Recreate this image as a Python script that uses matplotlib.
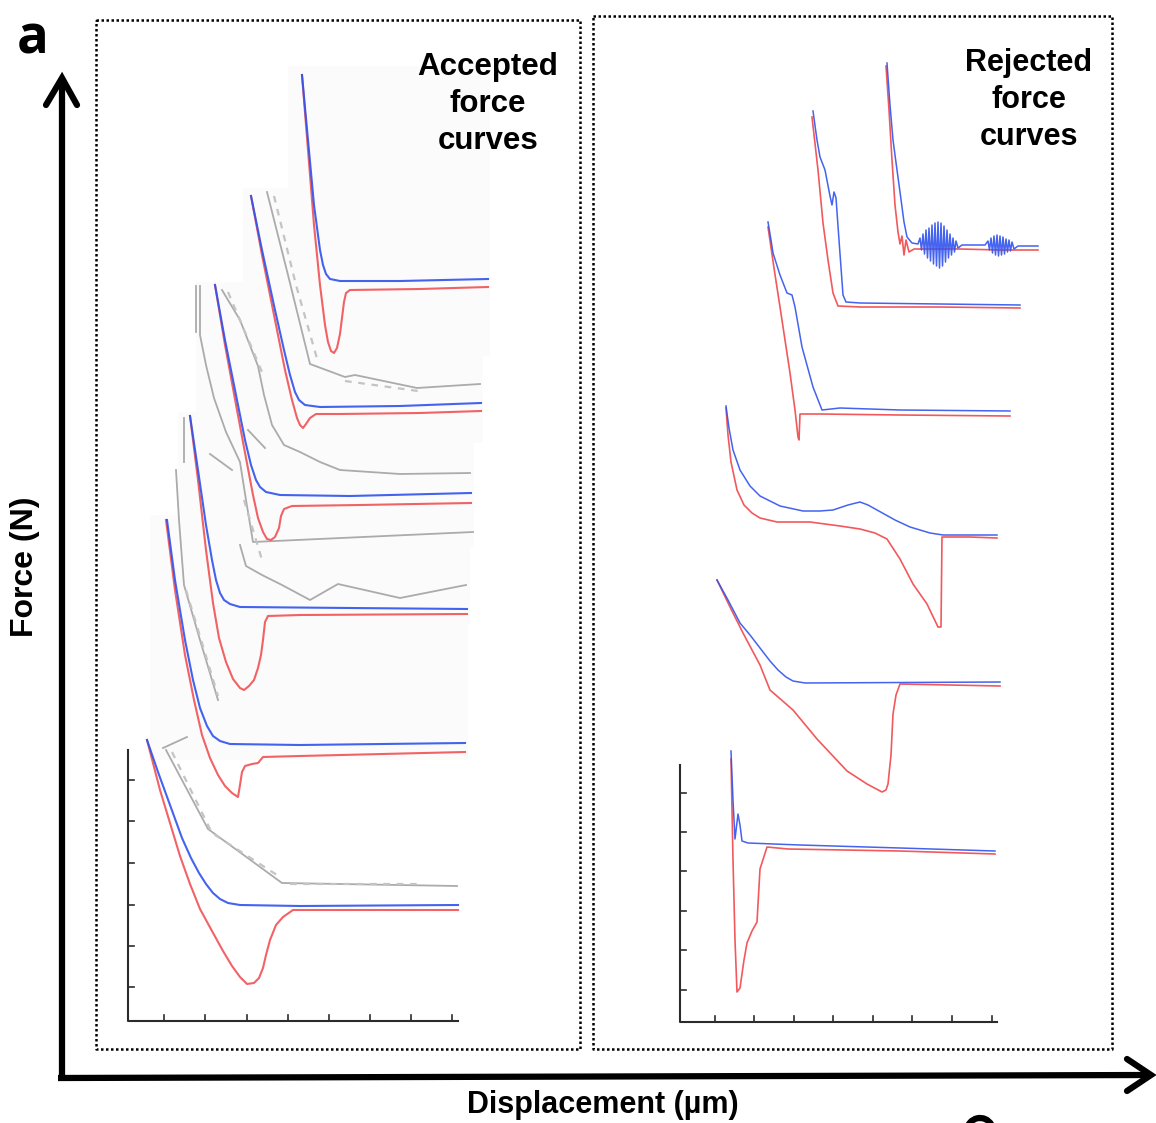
import matplotlib
matplotlib.use("Agg")
import matplotlib.pyplot as plt
from matplotlib.patches import Rectangle, Arc

# traces sampled from the figure (displacement px, force px), y grows downward
# ---- accepted force curves (left panel) ----
acc1_app = [(302, 75), (308, 140), (314, 205), (320, 250), (323, 265), (326, 274), (330, 279), (340, 281), (400, 281), (488, 279)]
acc1_ret = [(302, 75), (308, 150), (314, 225), (320, 285), (325, 325), (328, 342), (331, 351), (334, 353), (337, 348), (340, 334),
            (342, 318), (344, 302), (346, 293), (350, 290), (420, 289), (488, 287)]
acc2_app = [(251, 196), (262, 250), (275, 310), (284, 350), (290, 375), (295, 392), (299, 400), (305, 405), (320, 407), (400, 406), (481, 403)]
acc2_ret = [(251, 196), (262, 255), (275, 320), (285, 370), (292, 400), (297, 418), (300, 425), (303, 428), (306, 424), (310, 418),
            (316, 414), (340, 414), (420, 413), (481, 411)]
acc3_app = [(215, 285), (225, 340), (237, 400), (245, 440), (251, 465), (256, 480), (260, 487), (266, 492), (280, 495), (350, 496), (471, 493)]
acc3_ret = [(215, 285), (225, 345), (237, 410), (246, 458), (253, 495), (258, 518), (263, 532), (267, 539), (271, 540), (275, 537),
            (279, 528), (281, 516), (284, 509), (292, 506), (360, 505), (471, 503)]
acc4_app = [(190, 416), (198, 470), (206, 525), (212, 560), (216, 580), (220, 593), (224, 600), (230, 604), (240, 607), (350, 608), (467, 609)]
acc4_ret = [(190, 416), (198, 480), (206, 550), (213, 603), (219, 638), (226, 662), (233, 679), (240, 688), (244, 690), (249, 686),
            (254, 680), (258, 668), (261, 655), (263, 640), (265, 622), (268, 616), (300, 615), (467, 614)]
acc5_app = [(167, 520), (175, 580), (185, 640), (193, 680), (200, 708), (207, 726), (213, 736), (220, 741), (230, 744), (300, 745), (465, 743)]
acc5_ret = [(166, 520), (175, 590), (185, 655), (194, 700), (202, 735), (210, 758), (218, 775), (225, 786), (232, 793), (238, 797),
            (240, 785), (242, 772), (245, 766), (252, 764), (258, 763), (263, 757), (300, 756), (465, 752)]
acc6_app = [(147, 740), (158, 772), (170, 805), (182, 838), (191, 858), (199, 873), (206, 884), (213, 893), (220, 899), (228, 903),
            (240, 905), (300, 906), (458, 905)]
acc6_ret = [(147, 740), (160, 790), (170, 823), (180, 856), (190, 884), (200, 909), (212, 931), (223, 951), (232, 966), (240, 977),
            (247, 984), (254, 983), (259, 978), (263, 968), (266, 955), (270, 940), (276, 925), (283, 917), (293, 910), (360, 910), (458, 910)]

# grey outlines left over from the pasted source images
grey_traces = [
    [(267, 192), (288, 275), (310, 364), (345, 377), (355, 375), (417, 388), (480, 384)],
    [(196, 286), (196, 332)],
    [(200, 286), (200, 335), (206, 365), (214, 398), (226, 432), (240, 462), (246, 500), (253, 542), (473, 532)],
    [(222, 290), (240, 320), (258, 366), (264, 395), (272, 425), (284, 445), (300, 452), (320, 462), (340, 470), (400, 474), (470, 473)],
    [(248, 430), (265, 448)],
    [(210, 454), (232, 470)],
    [(184, 418), (184, 462)],
    [(176, 470), (179, 520), (184, 585), (200, 640), (218, 700)],
    [(240, 545), (246, 566), (262, 575), (282, 585), (310, 600), (338, 584), (400, 598), (466, 585)],
    [(163, 748), (187, 737)],
    [(166, 750), (208, 829), (282, 883), (457, 886)],
]
grey_dashes = [
    [(274, 196), (296, 285), (318, 362)],
    [(345, 381), (418, 391)],
    [(228, 292), (262, 372)],
    [(244, 500), (262, 560)],
    [(186, 590), (218, 696)],
    [(172, 752), (212, 833), (280, 877)],
    [(290, 884), (420, 884)],
]

# ---- rejected force curves (right panel) ----
rej1_app = [(887, 63), (890, 105), (893, 140), (897, 170), (900, 192), (904, 222), (907, 237), (912, 243), (918, 244),
            (920, 238), (921.5, 250), (923, 234), (924.5, 254), (926, 230), (927.5, 258), (929, 228), (930.5, 261), (932, 225),
            (933.5, 264), (935, 223), (936.5, 266), (938, 222), (939.5, 268), (941, 223), (942.5, 266), (944, 226), (945.5, 262),
            (947, 230), (948.5, 258), (950, 234), (951.5, 255), (953, 238), (954.5, 252), (956, 241), (958, 248), (962, 245),
            (985, 245), (988, 241), (989.5, 250), (991, 238), (992.5, 253), (994, 236), (995.5, 255), (997, 235), (998.5, 256),
            (1000, 236), (1001.5, 255), (1003, 237), (1004.5, 254), (1006, 239), (1007.5, 252), (1009, 240), (1010.5, 251),
            (1012, 242), (1014, 249), (1018, 246), (1038, 246)]
rej1_ret = [(886, 66), (889, 110), (892, 160), (895, 205), (898, 232), (900, 244), (902, 236), (904, 255), (906, 240), (909, 252),
            (914, 249), (960, 249), (1000, 250), (1038, 250)]
rej2_app = [(813, 111), (817, 140), (820, 157), (825, 170), (830, 196), (832, 205), (834, 192), (836, 198), (839, 240), (843, 295),
            (846, 302), (860, 303), (940, 304), (1020, 305)]
rej2_ret = [(812, 117), (818, 170), (823, 223), (828, 260), (833, 293), (838, 306), (860, 307), (940, 307), (1020, 308)]
rej3_app = [(768, 222), (771, 240), (773, 253), (780, 275), (787, 293), (792, 295), (795, 307), (802, 347), (813, 387), (822, 410),
            (840, 408), (900, 410), (1010, 411)]
rej3_ret = [(768, 227), (774, 268), (780, 307), (790, 373), (795, 410), (798, 437), (799, 440), (800, 414), (820, 414), (900, 415), (1010, 416)]
rej4_app = [(726, 406), (729, 428), (733, 450), (740, 470), (750, 486), (760, 496), (780, 506), (803, 511), (820, 511), (833, 510),
            (848, 505), (860, 502), (868, 505), (877, 510), (895, 520), (910, 527), (930, 533), (943, 535), (997, 535)]
rej4_ret = [(726, 408), (728, 435), (731, 462), (737, 490), (744, 505), (752, 513), (760, 518), (777, 522), (810, 522), (840, 526),
            (860, 529), (875, 533), (887, 539), (900, 559), (913, 584), (927, 604), (938, 627), (941, 627), (942, 537), (970, 537), (997, 538)]
rej5_app = [(717, 580), (728, 600), (740, 623), (750, 635), (760, 648), (770, 661), (778, 670), (786, 677), (793, 681), (805, 683), (1000, 682)]
rej5_ret = [(717, 580), (730, 607), (743, 633), (760, 665), (770, 690), (793, 710), (817, 739), (847, 771), (867, 784), (882, 792),
            (886, 790), (888, 784), (891, 755), (893, 714), (896, 695), (900, 684), (950, 685), (1000, 686)]
rej6_app = [(731, 751), (733, 800), (735, 839), (738, 814), (740, 825), (742, 841), (748, 843), (800, 845), (900, 848), (995, 851)]
rej6_ret = [(731, 759), (733, 860), (735, 940), (737, 992), (740, 988), (744, 960), (747, 943), (752, 931), (757, 922), (760, 869),
            (767, 847), (788, 849), (900, 851), (995, 854)]

# small inset axes (bottom curves): tick positions
acc_yticks = [780, 821, 863, 905, 946, 987]
acc_xticks = [164, 205, 247, 288, 329, 370, 411, 452]
rej_yticks = [793, 832, 871, 911, 950, 990]
rej_xticks = [715, 754, 794, 833, 873, 912, 952, 992]

BLUE = "#2f52ee"
RED = "#f0474b"
GREY = "#ababab"

fig = plt.figure(figsize=(11.56, 11.23), dpi=100)
ax = fig.add_axes([0, 0, 1, 1])
ax.set_xlim(0, 1156)
ax.set_ylim(1123, 0)
ax.axis("off")


def trace(pts, color, lw, **kw):
    xs, ys = zip(*pts)
    ax.plot(xs, ys, color=color, lw=lw, solid_joinstyle="round", **kw)


# faint backgrounds of pasted images
for (x0, y0, w, h) in [(288, 66, 202, 290), (243, 188, 240, 255), (196, 282, 278, 265), (178, 412, 292, 212), (150, 515, 318, 245)]:
    ax.add_patch(Rectangle((x0, y0), w, h, facecolor="#fbfbfb", edgecolor="none", zorder=0))

for g in grey_traces:
    trace(g, GREY, 1.3, zorder=1)
for g in grey_dashes:
    trace(g, "#c4c4c4", 1.6, zorder=1, linestyle=(0, (3, 3)))

for app, ret in [(acc1_app, acc1_ret), (acc2_app, acc2_ret), (acc3_app, acc3_ret),
                 (acc4_app, acc4_ret), (acc5_app, acc5_ret), (acc6_app, acc6_ret)]:
    trace(ret, RED, 1.5, zorder=2, alpha=0.85)
    trace(app, BLUE, 1.5, zorder=3, alpha=0.9)

for app, ret in [(rej1_app, rej1_ret), (rej2_app, rej2_ret), (rej3_app, rej3_ret),
                 (rej4_app, rej4_ret), (rej5_app, rej5_ret), (rej6_app, rej6_ret)]:
    trace(ret, RED, 1.2, zorder=2, alpha=0.9)
    trace(app, BLUE, 1.1, zorder=3, alpha=0.9)

# inset axes of the bottom traces
for x0, x1, ytop, ybase, yt, xt in [(128, 458, 750, 1021, acc_yticks, acc_xticks),
                                   (680, 997, 765, 1022, rej_yticks, rej_xticks)]:
    ax.plot([x0, x0, x1], [ytop, ybase, ybase], color="#2b2b2b", lw=1.5, zorder=4)
    for t in yt:
        ax.plot([x0, x0 + 6], [t, t], color="#2b2b2b", lw=1.2, zorder=4)
    for t in xt:
        ax.plot([t, t], [ybase, ybase - 6], color="#2b2b2b", lw=1.2, zorder=4)

# dotted panel frames
for (x0, y0, x1, y1) in [(96, 20, 580, 1049), (593, 16, 1112, 1049)]:
    ax.plot([x0, x1, x1, x0, x0], [y0, y0, y1, y1, y0], color="black", lw=1.8,
            linestyle=(0, (1, 1)), zorder=5)

# big axis arrows
ax.plot([62, 62], [1079, 78], color="black", lw=4.5, solid_capstyle="butt", zorder=6)
ax.plot([46, 62, 77], [105, 78, 105], color="black", lw=4.5, solid_capstyle="round",
        solid_joinstyle="miter", zorder=6)
ax.plot([58, 1149], [1078, 1075], color="black", lw=4.5, solid_capstyle="butt", zorder=6)
ax.plot([1127, 1151, 1127], [1059, 1075, 1091], color="black", lw=4.5, solid_capstyle="round",
        solid_joinstyle="miter", zorder=6)

# top of the next panel's letter, cut by the lower edge
ax.add_patch(Arc((980, 1131), 26, 26, theta1=185, theta2=330, color="black", lw=4.5, zorder=6))

ax.text(33, 40, "a", fontsize=38, fontweight="bold", family="Open Sans", ha="center", va="center")
ax.text(25, 567, "Force (N)", fontsize=23, fontweight="bold", family="Liberation Sans",
        rotation=90, ha="center", va="center")
ax.text(603, 1105, "Displacement (µm)", fontsize=22, fontweight="bold", family="Liberation Sans",
        ha="center", va="center")
ax.text(488, 104, "Accepted\nforce\ncurves", fontsize=22.5, fontweight="bold", family="Liberation Sans",
        ha="center", va="center", linespacing=1.32)
ax.text(1029, 100, "Rejected\nforce\ncurves", fontsize=22, fontweight="bold", family="Liberation Sans",
        ha="center", va="center", linespacing=1.32)

fig.savefig("out.png", dpi=100)
